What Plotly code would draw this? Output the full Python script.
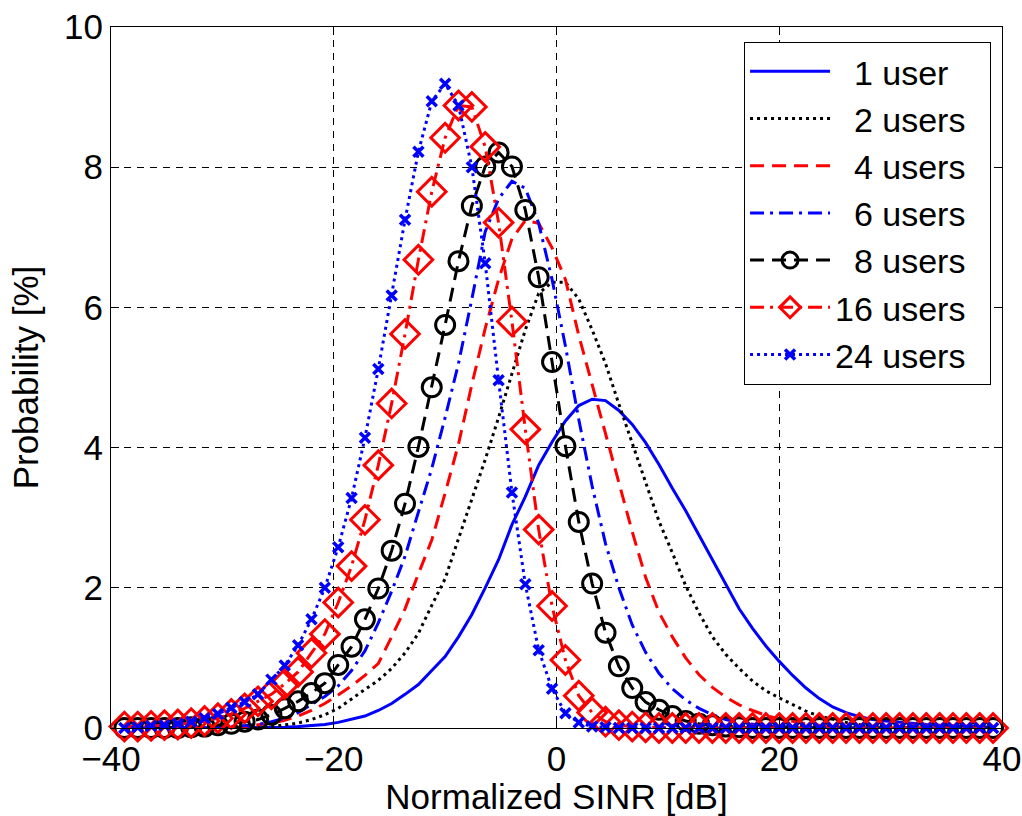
import plotly.graph_objects as go

# Normalized SINR bin centres [dB]
sinr_db = [-38.8, -37.6, -36.4, -35.2, -34.0, -32.8, -31.6, -30.4, -29.2, -28.0,
           -26.8, -25.6, -24.4, -23.2, -22.0, -20.8, -19.6, -18.4, -17.2, -16.0,
           -14.8, -13.6, -12.4, -11.2, -10.0, -8.8, -7.6, -6.4, -5.2, -4.0,
           -2.8, -1.6, -0.4, 0.8, 2.0, 3.2, 4.4, 5.6, 6.8, 8.0,
           9.2, 10.4, 11.6, 12.8, 14.0, 15.2, 16.4, 17.6, 18.8, 20.0,
           21.2, 22.4, 23.6, 24.8, 26.0, 27.2, 28.4, 29.6, 30.8, 32.0,
           33.2, 34.4, 35.6, 36.8, 38.0, 39.2]

# Probability [%] per number of users
p_1user = [0, 0, 0, 0, 0, 0, 0, 0, 0, 0, 0, 0,
           0.01, 0.02, 0.03, 0.05, 0.08, 0.12, 0.17, 0.25, 0.35, 0.48,
           0.62, 0.82, 1.02, 1.3, 1.62, 2.0, 2.4, 2.9, 3.3, 3.75,
           4.08, 4.38, 4.6, 4.69, 4.67, 4.53, 4.33, 4.07, 3.76, 3.42,
           3.1, 2.75, 2.4, 2.05, 1.7, 1.42, 1.17, 0.95, 0.75, 0.57,
           0.42, 0.3, 0.22, 0.16, 0.12, 0.1, 0.08, 0.06, 0.05, 0.04, 0.03, 0.02, 0.01, 0.01]
p_2users = [0, 0, 0, 0, 0, 0, 0, 0, 0, 0,
            0.01, 0.02, 0.04, 0.07, 0.12, 0.19, 0.28, 0.42, 0.55, 0.68,
            0.85, 1.07, 1.35, 1.75, 2.13, 2.7, 3.26, 3.83, 4.43, 5.07,
            5.68, 6.2, 6.36, 6.36, 6.12, 5.68, 5.2, 4.62, 4.06, 3.5,
            2.95, 2.5, 2.03, 1.64, 1.3, 1.05, 0.85, 0.67, 0.53, 0.43,
            0.33, 0.24, 0.17, 0.12, 0.08, 0.05, 0.03, 0.02, 0.01,
            0, 0, 0, 0, 0, 0, 0]
p_4users = [0, 0, 0, 0, 0, 0, 0, 0,
            0.01, 0.02, 0.04, 0.07, 0.11, 0.17, 0.25, 0.35, 0.47, 0.6, 0.75, 0.92,
            1.3, 1.7, 2.2, 2.68, 3.35, 4.05, 4.9, 5.7, 6.4, 6.98,
            7.24, 7.2, 6.85, 6.4, 5.6, 4.9, 4.22, 3.5, 2.8, 2.15,
            1.65, 1.3, 1.0, 0.76, 0.58, 0.44, 0.33, 0.25, 0.18, 0.13,
            0.09, 0.06, 0.04, 0.02, 0.01,
            0, 0, 0, 0, 0, 0, 0, 0, 0, 0, 0]
p_6users = [0, 0, 0, 0, 0, 0, 0,
            0.01, 0.02, 0.03, 0.05, 0.09, 0.14,
            0.22, 0.33, 0.45, 0.6, 0.82, 1.1, 1.5, 1.95, 2.45, 3.08,
            3.7, 4.43, 5.2, 6.12, 7.08, 7.55, 7.8, 7.7, 7.2, 6.4,
            5.45, 4.4, 3.45, 2.63, 2.0, 1.47, 1.08, 0.78, 0.56, 0.4,
            0.28, 0.19, 0.12, 0.08, 0.05, 0.03, 0.02, 0.01,
            0, 0, 0, 0, 0, 0, 0, 0, 0, 0, 0, 0, 0, 0, 0]
p_8users = [0, 0, 0, 0, 0, 0.01,
            0.02, 0.04, 0.06, 0.09,
            0.12, 0.19, 0.28, 0.38, 0.5, 0.64, 0.9, 1.16, 1.55, 1.99,
            2.53, 3.2, 4.01, 4.86, 5.75, 6.66, 7.45, 8.01, 8.21, 8.01,
            7.39, 6.43, 5.22, 4.02, 2.94, 2.06, 1.36, 0.88, 0.57, 0.37,
            0.26, 0.17, 0.1, 0.06, 0.04, 0.02, 0.01,
            0, 0, 0, 0, 0, 0, 0, 0, 0, 0, 0, 0, 0, 0, 0, 0, 0, 0, 0]
p_16users = [0.02, 0.02, 0.03, 0.04, 0.05, 0.07, 0.1, 0.14, 0.2, 0.28,
             0.38, 0.48, 0.63, 0.8, 1.07, 1.34, 1.79, 2.31, 2.97, 3.75,
             4.63, 5.62, 6.68, 7.65, 8.42, 8.88, 8.86, 8.29, 7.21, 5.8,
             4.26, 2.83, 1.74, 0.97, 0.46, 0.22, 0.09, 0.04, 0.02, 0.01,
             0, 0, 0, 0, 0, 0, 0, 0, 0, 0, 0, 0, 0, 0, 0, 0, 0, 0, 0, 0,
             0, 0, 0, 0, 0, 0]
p_24users = [0.0, 0.01, 0.03, 0.04, 0.06, 0.09, 0.14, 0.2, 0.29, 0.37,
             0.48, 0.69, 0.89, 1.18, 1.55, 2.0, 2.58, 3.28, 4.14, 5.12,
             6.17, 7.25, 8.22, 8.94, 9.19, 8.88, 8.0, 6.63, 4.96, 3.36,
             2.05, 1.11, 0.56, 0.21, 0.08, 0.02, 0.01,
             0, 0, 0, 0, 0, 0, 0, 0, 0, 0, 0, 0, 0, 0, 0, 0, 0, 0, 0, 0,
             0, 0, 0, 0, 0, 0, 0, 0, 0]

NB = "\u00a0"
labels = ["1 user", "2 users", "4 users", "6 users", "8 users", "16 users", "24 users"]
pad_labels = [(NB * 2 if len(t.split()[0]) == 1 else "") + t + NB * 2 for t in labels]

BLUE = "#0000FF"
RED = "#FF0000"
BLACK = "#000000"
LW = 3
DOT = "3px,4px"
DASH = "14px,8px"
DASHDOT = "14px,6px,3px,6px"

series = [
    (p_1user, pad_labels[0], BLUE, "solid", None),
    (p_2users, pad_labels[1], BLACK, DOT, None),
    (p_4users, pad_labels[2], RED, DASH, None),
    (p_6users, pad_labels[3], BLUE, DASHDOT, None),
    (p_8users, pad_labels[4], BLACK, DASH, dict(symbol="circle-open", size=19, color=BLACK,
                                                line=dict(width=3, color=BLACK))),
    (p_16users, pad_labels[5], RED, DASHDOT, dict(symbol="diamond-open", size=22, color=RED,
                                                  line=dict(width=3, color=RED))),
    (p_24users, pad_labels[6], BLUE, DOT, dict(symbol="x-thin-open", size=10, color=BLUE,
                                               line=dict(width=3.5, color=BLUE))),
]

fig = go.Figure()
for y, name, color, dash, marker in series:
    fig.add_trace(go.Scatter(
        x=sinr_db, y=y, name=name,
        mode="lines+markers" if marker else "lines",
        line=dict(color=color, width=LW, dash=dash),
        marker=marker,
        cliponaxis=False,
    ))

FONT = "Liberation Sans, Arial, Helvetica, sans-serif"
axis_common = dict(
    showline=True, linecolor="black", linewidth=1, mirror="ticks",
    ticks="inside", ticklen=8, tickwidth=1, tickcolor="black",
    showgrid=True, gridcolor="black", gridwidth=1, griddash="7px,6px",
    zeroline=False, ticklabeloverflow="allow",
    tickfont=dict(family=FONT, size=35, color="black"),
)

fig.update_layout(
    width=1022, height=816,
    margin=dict(l=111, r=20, t=27, b=88, autoexpand=False),
    paper_bgcolor="white", plot_bgcolor="white",
    font=dict(family=FONT, size=35, color="black"),
    xaxis=dict(range=[-40, 40], tickvals=[-40, -20, 0, 20, 40],
               title=dict(text="Normalized SINR [dB]", font=dict(family=FONT, size=35), standoff=8),
               **axis_common),
    yaxis=dict(range=[0, 10], tickvals=[0, 2, 4, 6, 8, 10],
               title=dict(text="Probability [%]", font=dict(family=FONT, size=35), standoff=14),
               **axis_common),
    legend=dict(x=0.9877, y=0.979, xanchor="right", yanchor="top",
                bgcolor="white", bordercolor="black", borderwidth=1,
                font=dict(family=FONT, size=34, color="black"),
                itemwidth=80, tracegroupgap=0),
    showlegend=True,
)

fig.write_html("out.html",
               config={"displayModeBar": False},
               post_script="document.body.style.margin='0';document.body.style.overflow='hidden';")
